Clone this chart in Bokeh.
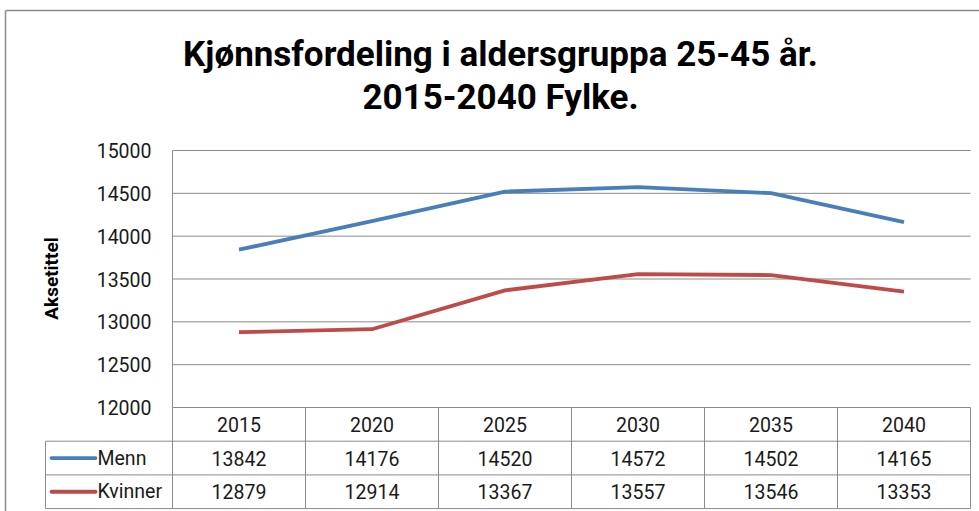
import math
from bokeh.plotting import figure
from bokeh.models import Range1d
from bokeh.core.properties import value
from bokeh.embed import file_html
from bokeh.resources import INLINE

# ---- data ----
years = ["2015", "2020", "2025", "2030", "2035", "2040"]
menn = [13842, 14176, 14520, 14572, 14502, 14165]
kvinner = [12879, 12914, 13367, 13557, 13546, 13353]
series_names = ["Menn", "Kvinner"]
y_ticks = [12000, 12500, 13000, 13500, 14000, 14500, 15000]
y_tick_labels = ["12000", "12500", "13000", "13500", "14000", "14500", "15000"]
title_lines = ["Kjønnsfordeling i aldersgruppa 25-45 år.", "2015-2040 Fylke."]
axis_title = "Aksetittel"

# ---- layout (canvas px) ----
W, H = 979, 511
PLOT_L, COL_W = 172, 133          # plot-area left, column width
TOP_PX, BOT_PX = 150, 407         # px of 15000 and 12000
ROW_PX = 33.7

def px2x(cx):
    return (cx - PLOT_L) / COL_W

def px2row(cy):
    return (BOT_PX - cy) / ROW_PX

u = (y_ticks[-1] - y_ticks[0]) / (BOT_PX - TOP_PX)

p = figure(width=W, height=H, output_backend="svg", toolbar_location=None,
           x_axis_location=None, y_axis_location=None, min_border=0,
           x_range=Range1d(px2x(0), px2x(W)),
           y_range=Range1d(y_ticks[0] - (H - BOT_PX) * u, y_ticks[-1] + TOP_PX * u))
p.extra_y_ranges = {"tbl": Range1d(px2row(H), px2row(0))}
p.outline_line_color = None
p.background_fill_color = "white"
p.border_fill_color = "white"
p.xgrid.visible = False
p.ygrid.visible = False

n = len(years)
xc = [i + 0.5 for i in range(n)]
GRID = "#8a8a8a"
BLUE = "#4a7ebb"
RED = "#be4b48"
FONT = value("Roboto")
TXT = "#1a1a1a"

# outer chart border (top and left)
p.segment(x0=[px2x(5)], x1=[px2x(W)], y0=[px2row(10)], y1=[px2row(10)],
          y_range_name="tbl", line_color="#8c8c8c", line_width=1.5)
p.segment(x0=[px2x(5)], x1=[px2x(5)], y0=[px2row(10)], y1=[px2row(H)],
          y_range_name="tbl", line_color="#8c8c8c", line_width=1.5)

# horizontal gridlines
p.segment(x0=[0] * len(y_ticks), x1=[n] * len(y_ticks), y0=y_ticks, y1=y_ticks,
          line_color=GRID, line_width=1)
# vertical axis line
p.segment(x0=[0], x1=[0], y0=[y_ticks[0]], y1=[y_ticks[-1]], line_color=GRID, line_width=1)

# tick labels
p.text(x=[px2x(151)] * len(y_ticks), y=y_ticks, text=y_tick_labels,
       text_align="right", text_baseline="middle", text_font=FONT,
       text_font_size="19.5px", text_color=TXT)

# axis title
p.text(x=[px2x(51)], y=[px2row(278)], text=[axis_title], angle=math.pi / 2,
       y_range_name="tbl", text_align="center", text_baseline="middle",
       text_font=FONT, text_font_style="bold", text_font_size="19px", text_color="#000000")

# data lines
p.line(xc, menn, line_color=BLUE, line_width=3.8, line_join="round")
p.line(xc, kvinner, line_color=RED, line_width=3.8, line_join="round")

# data table grid
left = px2x(45)
rows = len(series_names) + 1
p.segment(x0=list(range(n + 1)), x1=list(range(n + 1)), y0=[0] * (n + 1), y1=[-rows] * (n + 1),
          y_range_name="tbl", line_color=GRID, line_width=1)
p.segment(x0=[left], x1=[left], y0=[-1], y1=[-rows], y_range_name="tbl",
          line_color=GRID, line_width=1)
p.segment(x0=[left] * rows, x1=[n] * rows,
          y0=[-(r + 1) for r in range(rows)], y1=[-(r + 1) for r in range(rows)],
          y_range_name="tbl", line_color=GRID, line_width=1)

# table header
p.text(x=xc, y=[-0.5] * n, text=years, y_range_name="tbl", text_align="center",
       text_baseline="middle", text_font=FONT, text_font_size="19.5px", text_color=TXT)
# table values + legend keys
for r, (vals, col) in enumerate([(menn, BLUE), (kvinner, RED)]):
    ry = -1.5 - r
    p.text(x=xc, y=[ry] * n, text=[str(v) for v in vals], y_range_name="tbl",
           text_align="center", text_baseline="middle", text_font=FONT,
           text_font_size="19.5px", text_color=TXT)
    p.segment(x0=[px2x(51)], x1=[px2x(95)], y0=[ry], y1=[ry], y_range_name="tbl",
              line_color=col, line_width=3.8, line_cap="round")
    p.text(x=[px2x(97)], y=[ry], text=[series_names[r]], y_range_name="tbl",
           text_align="left", text_baseline="middle", text_font=FONT,
           text_font_size="19.5px", text_color=TXT)

# title
p.text(x=[px2x(500)] * 2, y=[px2row(54), px2row(97)], text=title_lines, y_range_name="tbl",
       text_align="center", text_baseline="middle", text_font=value("Roboto"),
       text_font_style="bold", text_font_size="35px", text_color="#000000")

open("out.html", "w").write(file_html(p, INLINE))
